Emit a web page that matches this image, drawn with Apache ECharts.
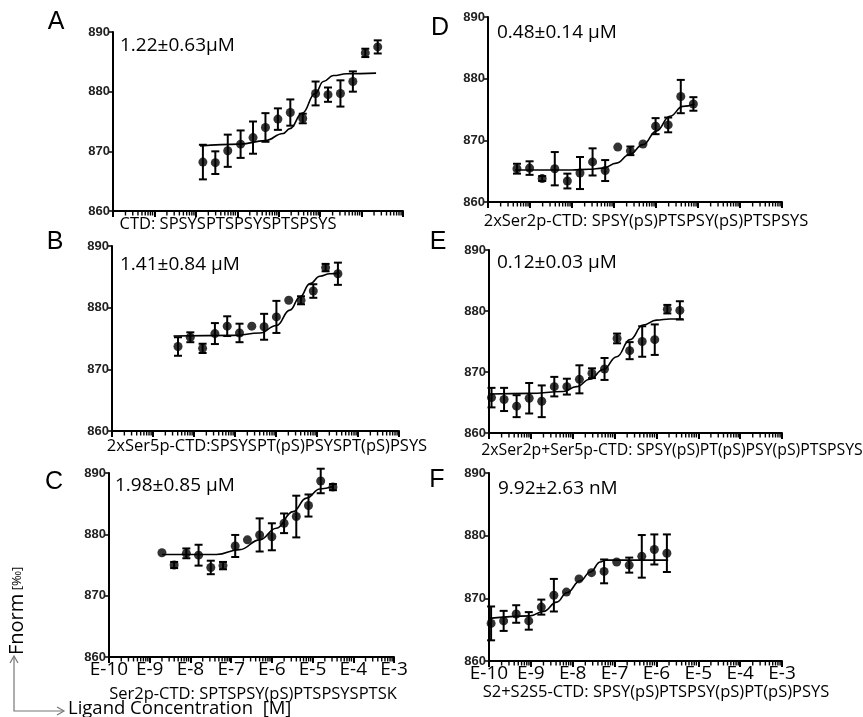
<!DOCTYPE html>
<html><head><meta charset="utf-8">
<script src="https://cdn.jsdelivr.net/npm/echarts@6/dist/echarts.min.js"></script>
<style>html,body{margin:0;padding:0;background:#fff}#c{width:863px;height:717px}</style>
</head><body><div id="c"></div><script>
// x values are log10 of ligand concentration [M]
const xTickLabels = ['E-10','E-9','E-8','E-7','E-6','E-5','E-4','E-3'];
const yTicks = [860, 870, 880, 890];

const xA = [-7.83,-7.53,-7.23,-6.92,-6.62,-6.32,-6.02,-5.72,-5.42,-5.11,-4.81,-4.51,-4.21,-3.91,-3.61];
const yA = [868.2,868.1,870.1,871.2,872.3,874.0,875.4,876.5,875.5,879.7,879.5,879.7,881.7,886.5,887.5];
const eA = [2.9,1.9,2.7,2.3,2.7,2.4,1.8,2.2,0.8,2.0,1.2,2.2,1.7,0.7,1.1];
const fitXA = [-7.90,-6.93,-6.33,-5.89,-5.73,-5.43,-5.12,-4.92,-4.68,-4.36,-3.65];
const fitYA = [870.9,871.2,871.8,873.0,873.8,876.4,879.7,881.7,882.7,883.0,883.1];

const xB = [-8.39,-8.09,-7.79,-7.49,-7.19,-6.89,-6.59,-6.29,-5.99,-5.69,-5.39,-5.09,-4.79,-4.49];
const yB = [873.7,875.2,873.4,875.8,877.0,875.9,877.0,876.9,878.5,881.2,881.2,882.7,886.5,885.5];
const eB = [1.5,0.8,0.75,1.7,1.6,1.5,0,2.1,2.6,0,0.65,1.1,0.6,1.8];
const fitXB = [-8.50,-7.04,-6.39,-5.99,-5.66,-5.42,-5.17,-4.93,-4.69,-4.45];
const fitYB = [875.4,875.5,875.9,877.1,879.6,881.7,883.9,885.1,885.5,885.6];

const xC = [-8.70,-8.40,-8.10,-7.80,-7.50,-7.20,-6.90,-6.60,-6.30,-6.00,-5.70,-5.40,-5.10,-4.80,-4.50];
const yC = [877.0,875.0,876.9,876.6,874.6,874.9,878.1,879.1,879.9,879.6,881.8,882.9,884.7,888.7,887.7];
const eC = [0,0.5,0.8,1.7,1.1,0.6,1.8,0,2.7,2.2,1.6,3.4,1.8,2.0,0.5];
const fitXC = [-8.70,-7.36,-6.79,-6.30,-5.89,-5.48,-5.15,-4.82,-4.50];
const fitYC = [876.7,876.7,877.5,879.1,881.0,883.7,885.9,887.4,887.8];

const xD = [-9.31,-9.01,-8.71,-8.41,-8.11,-7.81,-7.51,-7.21,-6.91,-6.61,-6.31,-6.01,-5.71,-5.41,-5.11];
const yD = [865.4,865.5,863.8,865.4,863.4,864.7,866.5,865.1,868.9,868.3,869.4,872.3,872.5,877.1,875.9];
const eD = [0.8,1.1,0.4,2.7,1.2,2.6,2.2,1.7,0,0.7,0,1.3,1.2,2.7,1.1];
const fitXD = [-9.36,-8.0,-7.6,-7.26,-6.94,-6.63,-6.31,-5.99,-5.67,-5.36,-5.08];
const fitYD = [865.2,865.2,865.3,865.5,866.3,867.7,869.3,871.5,873.9,875.5,875.9];

const xE = [-9.94,-9.64,-9.34,-9.04,-8.74,-8.44,-8.14,-7.84,-7.54,-7.24,-6.94,-6.64,-6.34,-6.04,-5.74,-5.44];
const yE = [865.8,865.5,864.4,865.7,865.2,867.6,867.6,868.8,869.8,870.5,875.5,873.5,875.0,875.3,880.3,880.1];
const eE = [1.6,1.9,1.8,2.5,2.6,1.6,1.3,2.3,0.8,1.8,0.8,1.4,2.5,2.5,0.7,1.5];
const fitXE = [-9.97,-9.03,-8.23,-7.91,-7.59,-7.27,-6.95,-6.63,-6.32,-6.00,-5.68,-5.36];
const fitYE = [866.4,866.5,866.8,867.6,868.8,870.4,872.5,875.3,877.7,878.5,878.7,878.7];

const xF = [-9.95,-9.65,-9.35,-9.05,-8.75,-8.45,-8.15,-7.85,-7.55,-7.25,-6.95,-6.65,-6.35,-6.05,-5.75];
const yF = [866.0,866.4,867.5,866.4,868.6,870.5,871.0,873.1,874.1,874.3,875.8,875.3,876.7,877.8,877.2];
const eF = [2.7,1.6,1.4,1.4,1.2,2.6,0,0,0,1.9,0,1.2,3.4,2.4,3.0];
const fitXF = [-10.0,-9.02,-8.70,-8.38,-8.14,-7.82,-7.58,-7.34,-7.22,-5.72];
const fitYF = [866.8,867.2,867.9,869.4,870.9,872.8,874.2,875.8,876.1,876.1];

const panelLetters = ['A','B','C','D','E','F'];
const kdTexts = ['1.22±0.63µM','1.41±0.84 µM','1.98±0.85 µM','0.48±0.14 µM','0.12±0.03 µM','9.92±2.63 nM'];
const peptideTexts = [
  'CTD: SPSYSPTSPSYSPTSPSYS',
  '2xSer5p-CTD:SPSYSPT(pS)PSYSPT(pS)PSYS',
  'Ser2p-CTD: SPTSPSY(pS)PTSPSYSPTSK',
  '2xSer2p-CTD: SPSY(pS)PTSPSY(pS)PTSPSYS',
  '2xSer2p+Ser5p-CTD: SPSY(pS)PT(pS)PSY(pS)PTSPSYS',
  'S2+S2S5-CTD: SPSY(pS)PTSPSY(pS)PT(pS)PSYS'
];
const yAxisTitle = 'Fnorm';
const yAxisUnit = '[‰]';
const xAxisTitle = 'Ligand Concentration  [M]';

const panelData = [
  [xA,yA,eA,fitXA,fitYA],[xB,yB,eB,fitXB,fitYB],[xC,yC,eC,fitXC,fitYC],
  [xD,yD,eD,fitXD,fitYD],[xE,yE,eE,fitXE,fitYE],[xF,yF,eF,fitXF,fitYF]
];
// layout (pixels)
const grids = [
  {left:113, top:32, width:290, height:179},
  {left:112, top:246, width:287, height:185},
  {left:109, top:473, width:285, height:184},
  {left:488, top:17, width:294, height:185},
  {left:489, top:250, width:293, height:183},
  {left:489, top:473, width:293, height:188}
];
const showXLabels = [false,false,true,false,false,true];

const minorPos = [];
for (let d = -10; d < -3; d++) for (let k = 2; k <= 9; k++) minorPos.push(d + Math.log10(k));

const FONT_T = '"Open Sans", Lato, sans-serif';
const series = [], xAxis = [], yAxis = [];
panelData.forEach((p, i) => {
  xAxis.push({
    gridIndex: i, type: 'value', min: -10, max: -3, interval: 1,
    axisLine: {lineStyle: {color: '#000', width: 2}},
    axisTick: {show: true, inside: false, length: 6, lineStyle: {color: '#000', width: 2}},
    axisLabel: {show: showXLabels[i], formatter: v => xTickLabels[Math.round(v) + 10],
      fontFamily: FONT_T, fontSize: 19, color: '#000', margin: 3},
    splitLine: {show: false}
  });
  yAxis.push({
    gridIndex: i, type: 'value', min: yTicks[0], max: yTicks[yTicks.length-1], interval: 10,
    axisLine: {show: true, lineStyle: {color: '#000', width: 2}},
    axisTick: {show: true, length: 5, lineStyle: {color: '#000', width: 1.5}},
    axisLabel: {fontFamily: 'Arial, "Liberation Sans", sans-serif', fontWeight: 'bold', fontSize: 13, color: '#222', margin: 3},
    splitLine: {show: false}
  });
  const [xs, ys, es, fx, fy] = p;
  series.push({
    type: 'custom', xAxisIndex: i, yAxisIndex: i, silent: true, clip: false, z: 10,
    data: minorPos.map(v => [v, yTicks[0]]),
    renderItem: (params, api) => {
      const pt = api.coord([api.value(0), api.value(1)]);
      return {type: 'rect', shape: {x: pt[0] - 0.7, y: pt[1], width: 1.4, height: 4.5}, style: {fill: '#000'}};
    }
  });
  series.push({
    type: 'line', xAxisIndex: i, yAxisIndex: i, showSymbol: false, smooth: 0.45, smoothMonotone: 'x',
    data: fx.map((v, j) => [v, fy[j]]), lineStyle: {color: '#000', width: 1.6}, silent: true, z: 3
  });
  series.push({
    type: 'custom', xAxisIndex: i, yAxisIndex: i, silent: true, z: 4,
    data: xs.map((v, j) => [v, ys[j], es[j]]),
    renderItem: (params, api) => {
      const x = api.value(0), y = api.value(1), e = api.value(2);
      if (!e) return {type: 'group', children: []};
      const t = api.coord([x, y + e]), b = api.coord([x, y - e]);
      const hw = 4, st = {stroke: '#000', lineWidth: 2};
      return {type: 'group', children: [
        {type: 'line', shape: {x1: t[0], y1: t[1], x2: b[0], y2: b[1]}, style: st},
        {type: 'line', shape: {x1: t[0]-hw, y1: t[1], x2: t[0]+hw, y2: t[1]}, style: st},
        {type: 'line', shape: {x1: b[0]-hw, y1: b[1], x2: b[0]+hw, y2: b[1]}, style: st}
      ]};
    }
  });
  series.push({
    type: 'scatter', xAxisIndex: i, yAxisIndex: i, symbol: 'circle', symbolSize: 9,
    itemStyle: {color: '#000'}, data: xs.map((v, j) => [v, ys[j]]), z: 5, silent: true
  });
});

// text placement
const letterPos = [[56,22],[55,242],[54,482],[440,28],[438,242],[437,480]];
const kdPos = [[120,46],[120,265],[115,486],[497,33],[497,263],[498,489]];
const pepPos = [[228,224],[267,446],[253,694],[646,221],[672,450],[656,692]];
const pepSize = [16.5,16.5,16.5,16.5,15.8,16.5];
const graphics = [];
panelLetters.forEach((L, i) => {
  graphics.push({type: 'text', x: letterPos[i][0], y: letterPos[i][1],
    style: {text: L, font: '25px Arial, "Liberation Sans", sans-serif', fill: '#000', align: 'center', verticalAlign: 'middle'}});
  graphics.push({type: 'text', x: kdPos[i][0], y: kdPos[i][1],
    style: {text: kdTexts[i], font: '19px ' + FONT_T, fill: '#000', align: 'left', verticalAlign: 'middle'}});
  graphics.push({type: 'text', x: pepPos[i][0], y: pepPos[i][1],
    style: {text: peptideTexts[i], font: pepSize[i] + 'px ' + FONT_T, fill: '#000', align: 'center', verticalAlign: 'middle'}});
});
graphics.push({type: 'text', x: 68, y: 709,
  style: {text: xAxisTitle, font: '18.5px ' + FONT_T, fill: '#000', align: 'left', verticalAlign: 'middle'}});
graphics.push({type: 'text', x: 17, y: 655, rotation: Math.PI / 2,
  style: {rich: {a: {font: '20px ' + FONT_T, fill: '#000'}, b: {font: '13px ' + FONT_T, fill: '#000'}},
    text: '{a|' + yAxisTitle + '} {b|' + yAxisUnit + '}', align: 'left', verticalAlign: 'middle'}});
const arrowStyle = {stroke: '#777', lineWidth: 1.2, fill: 'none'};
graphics.push({type: 'polyline', shape: {points: [[14, 657], [14, 711], [63, 711]]}, style: arrowStyle});
graphics.push({type: 'polyline', shape: {points: [[10, 663], [14, 656], [18, 663]]}, style: arrowStyle});
graphics.push({type: 'polyline', shape: {points: [[57, 707], [64, 711], [57, 715]]}, style: arrowStyle});

const chart = echarts.init(document.getElementById('c'), null, {renderer: 'canvas'});
chart.setOption({
  animation: false, backgroundColor: '#fff',
  grid: grids, xAxis, yAxis, series, graphic: graphics
});
</script></body></html>
